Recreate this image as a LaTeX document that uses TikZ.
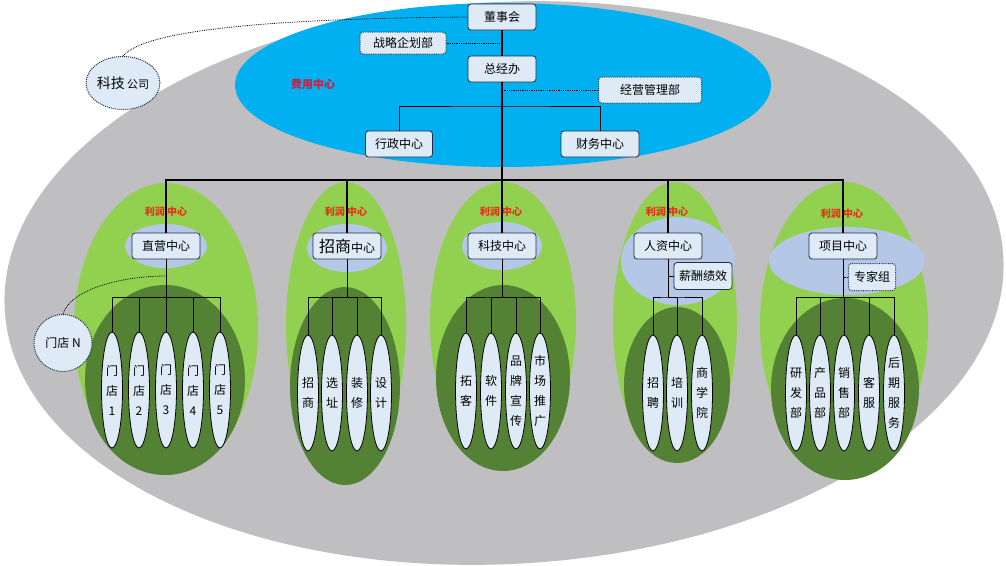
\documentclass[tikz,border=0pt]{standalone}
\usepackage{fontspec}
\setmainfont{Noto Sans CJK SC}
\usepackage{xcolor}
\usepackage{tikz}
\usetikzlibrary{shapes.geometric}
\definecolor{graybg}{RGB}{191,190,192}
\definecolor{costblue}{RGB}{0,176,240}
\definecolor{lightgreen}{RGB}{146,208,80}
\definecolor{darkgreen}{RGB}{84,130,53}
\definecolor{paleblue}{RGB}{180,199,231}
\definecolor{boxfill}{RGB}{222,235,247}
\definecolor{boxline}{RGB}{35,45,65}
\definecolor{profitred}{RGB}{232,45,25}
\definecolor{costred}{RGB}{215,25,60}
\tikzstyle{mybox} = [draw=boxline, line width=0.8pt, rectangle, rounded corners=3pt, fill=boxfill, minimum width=68pt, minimum height=26pt, inner sep=2pt, font=\fontsize{12}{14}\selectfont]
\tikzstyle{mydotbox} = [mybox, densely dotted, line width=1pt]
\tikzstyle{myleaf} = [draw=black, line width=0.8pt, ellipse, fill=boxfill, minimum width=21pt, minimum height=116pt, inner sep=0pt, align=center, font=\fontsize{12}{20}\selectfont]
\tikzstyle{myround} = [draw=boxline, densely dotted, line width=1pt, ellipse, fill=boxfill, inner sep=0pt]
\tikzstyle{mylabel} = [font=\fontsize{10}{12}\selectfont\bfseries, text=profitred]
\tikzstyle{myline} = [draw=black, line width=1.3pt]
\tikzstyle{mysub} = [draw=black, line width=1pt]

\begin{document}
\begin{tikzpicture}[x=1pt, y=1pt]
    \useasboundingbox (0,0) rectangle (1006,-565);
    % backgrounds
    \fill[graybg, rotate around={3:(504,-283)}] (504,-283) ellipse [x radius=500, y radius=281];
    \fill[costblue] (503,-85) ellipse [x radius=268, y radius=82];
    \fill[lightgreen] (166,-329) ellipse [x radius=92, y radius=146];
    \fill[lightgreen] (346,-325) ellipse [x radius=60, y radius=143];
    \fill[lightgreen] (503,-322) ellipse [x radius=73, y radius=140];
    \fill[lightgreen] (675,-322) ellipse [x radius=62, y radius=140];
    \fill[lightgreen] (844,-325) ellipse [x radius=84, y radius=143];
    \fill[darkgreen] (165,-380) ellipse [x radius=80, y radius=95];
    \fill[darkgreen] (345,-386) ellipse [x radius=55, y radius=99];
    \fill[darkgreen] (503,-378) ellipse [x radius=67, y radius=93];
    \fill[darkgreen] (677,-385) ellipse [x radius=53, y radius=78];
    \fill[darkgreen] (845,-389) ellipse [x radius=74, y radius=91];
    \fill[paleblue] (166,-246) ellipse [x radius=41, y radius=22];
    \fill[paleblue] (347,-248) ellipse [x radius=40, y radius=24];
    \fill[paleblue] (502,-246) ellipse [x radius=40, y radius=24];
    \fill[paleblue] (678,-261) ellipse [x radius=57, y radius=44];
    \fill[paleblue] (847,-261) ellipse [x radius=78, y radius=34];

    % top
    \node [mybox] (dsh) at (502,-17) {董事会};
    \node [mydotbox, minimum width=86pt, minimum height=22pt] (zlqh) at (403,-43) {战略企划部};
    \node [mybox] (zjb) at (502,-69) {总经办};
    \node [mydotbox, minimum width=103pt] (jygl) at (650,-90) {经营管理部};
    \node [mybox, minimum width=67pt] (xzzx) at (399,-144) {行政中心};
    \node [mybox, minimum width=78pt] (cwzx) at (600,-144) {财务中心};
    \node [font=\fontsize{11}{13}\selectfont\bfseries, text=costred] (fyzx) at (313,-84) {费用中心};
    \node [myround, minimum width=72pt, minimum height=53pt] (kjgs) at (123,-83) {{\fontsize{14}{14}\selectfont 科技} {\fontsize{11}{11}\selectfont 公司}};
    \coordinate (hx) at (502,-106);
    \coordinate (bus) at (502,-180);

    % centers
    \node [mybox] (zyzx) at (166,-246) {直营中心};
    \node [mybox] (zszx) at (347,-246) {{\fontsize{16}{16}\selectfont 招商}中心};
    \node [mybox] (kjzx) at (502,-246) {科技中心};
    \node [mybox] (rzzx) at (668,-246) {人资中心};
    \node [mybox] (xmzx) at (843,-246) {项目中心};
    \node [mylabel] (lr1) at (166,-212) {利润 中心};
    \node [mylabel] (lr2) at (346,-212) {利润 中心};
    \node [mylabel] (lr3) at (501,-212) {利润 中心};
    \node [mylabel] (lr4) at (667,-212) {利润 中心};
    \node [mylabel] (lr5) at (842,-214) {利润 中心};
    \node [mybox, minimum width=58pt, minimum height=27pt] (xcjx) at (703,-276) {薪酬绩效};
    \node [mydotbox, minimum width=47pt, minimum height=27pt] (zjz) at (872,-277) {专家组};
    \node [myround, minimum width=58pt, minimum height=57pt, font=\fontsize{12}{14}\selectfont] (mdn) at (63,-343) {门店 N};
    \coordinate (mdnj) at (166,-276);
    \coordinate (sb1) at (166,-297);
    \coordinate (sb2) at (347,-297);
    \coordinate (sb3) at (502,-297);
    \coordinate (sb4) at (668,-297);
    \coordinate (sb5) at (843,-297);

    % leaves
    \node [myleaf] (md1) at (112,-390) {门\\店\\1};
    \node [myleaf] (md2) at (139,-390) {门\\店\\2};
    \node [myleaf] (md3) at (166,-390) {门\\店\\3};
    \node [myleaf] (md4) at (193,-390) {门\\店\\4};
    \node [myleaf] (md5) at (220,-390) {门\\店\\5};
    \node [myleaf] (zs) at (308,-393) {招\\商};
    \node [myleaf] (xzh) at (332,-393) {选\\址};
    \node [myleaf] (zx) at (357,-393) {装\\修};
    \node [myleaf] (sj) at (381,-393) {设\\计};
    \node [myleaf] (tk) at (466,-391) {拓\\客};
    \node [myleaf] (rj) at (491,-391) {软\\件};
    \node [myleaf] (ppxc) at (516,-391) {品\\牌\\宣\\传};
    \node [myleaf] (sctg) at (540,-391) {市\\场\\推\\广};
    \node [myleaf] (zp) at (653,-393) {招\\聘};
    \node [myleaf] (px) at (677,-393) {培\\训};
    \node [myleaf] (sxy) at (702,-393) {商\\学\\院};
    \node [myleaf] (yfb) at (796,-393) {研\\发\\部};
    \node [myleaf] (cpb) at (820,-393) {产\\品\\部};
    \node [myleaf] (xsb) at (844,-393) {销\\售\\部};
    \node [myleaf] (kf) at (869,-393) {客\\服};
    \node [myleaf] (hqfw) at (894,-393) {后\\期\\服\\务};

    % connectors
    \draw [myline] (dsh.south) -- (zjb.north);
    \draw [myline] (zjb.south) -- (bus);
    \draw [mysub] (xzzx.north) |- (hx) -| (cwzx.north);
    \draw [densely dotted, thick] (zlqh.east) -- (zlqh.east -| dsh.south);
    \draw [densely dotted, thick] (jygl.west) -- (jygl.west -| zjb.south);
    \draw [densely dotted, thick] (kjgs.north) .. controls (140,-36) and (220,-19) .. (dsh.west);
    \draw [myline] (zyzx.north) |- (bus);
    \draw [myline] (zszx.north) |- (bus);
    \draw [myline] (kjzx.north) -- (bus);
    \draw [myline] (rzzx.north) |- (bus);
    \draw [myline] (xmzx.north) |- (bus);
    \draw [mysub] (zyzx.south) -- (sb1);
    \draw [mysub] (zszx.south) -- (sb2);
    \draw [mysub] (kjzx.south) -- (sb3);
    \draw [mysub] (rzzx.south) -- (sb4);
    \draw [mysub] (xmzx.south) -- (sb5);
    \draw [mysub] (xcjx.west) -- (xcjx.west -| rzzx.south);
    \draw [densely dotted, thick] (zjz.west) -- (zjz.west -| xmzx.south);
    \draw [densely dotted, thick] (mdn.north) .. controls (70,-290) and (120,-276) .. (mdnj);
    \draw [mysub] (md1.north) |- (sb1) -| (md5.north);
    \draw [mysub] (md2.north) |- (sb1);
    \draw [mysub] (md3.north) -- (sb1);
    \draw [mysub] (md4.north) |- (sb1);
    \draw [mysub] (zs.north) |- (sb2) -| (sj.north);
    \draw [mysub] (xzh.north) |- (sb2);
    \draw [mysub] (zx.north) |- (sb2);
    \draw [mysub] (tk.north) |- (sb3) -| (sctg.north);
    \draw [mysub] (rj.north) |- (sb3);
    \draw [mysub] (ppxc.north) |- (sb3);
    \draw [mysub] (zp.north) |- (sb4) -| (sxy.north);
    \draw [mysub] (px.north) |- (sb4);
    \draw [mysub] (yfb.north) |- (sb5) -| (hqfw.north);
    \draw [mysub] (cpb.north) |- (sb5);
    \draw [mysub] (xsb.north) |- (sb5);
    \draw [mysub] (kf.north) |- (sb5);
\end{tikzpicture}
\end{document}
